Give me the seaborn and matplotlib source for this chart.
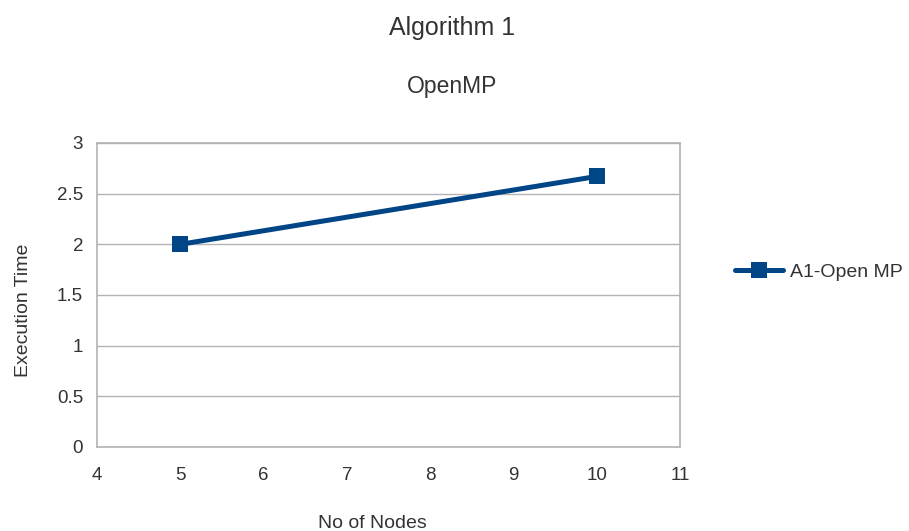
import matplotlib
matplotlib.use("Agg")
import matplotlib.pyplot as plt
import seaborn as sns
import pandas as pd

# Measured execution times for the OpenMP version of algorithm 1
nodes = [5, 10]
exec_time = [2.0, 2.67]
series_name = "A1-Open MP"

x_ticks = [4, 5, 6, 7, 8, 9, 10, 11]
y_ticks = [0, 0.5, 1, 1.5, 2, 2.5, 3]

df = pd.DataFrame({"nodes": nodes, "time": exec_time, "series": series_name})

sns.set_theme(style="white")
plt.rcParams["font.family"] = ["Liberation Sans", "DejaVu Sans"]

grey = "#b3b3b3"
text_col = "#333333"
blue = "#004586"

fig = plt.figure(figsize=(9.09, 5.31), dpi=100)
ax = fig.add_axes([0.1067, 0.1582, 0.6414, 0.5725])

sns.lineplot(data=df, x="nodes", y="time", hue="series", palette=[blue],
             marker="s", markersize=12, linewidth=3.6, markeredgewidth=0,
             ax=ax, legend=True)

ax.set_xlim(4, 11)
ax.set_ylim(0, 3)
ax.set_xticks(x_ticks)
ax.set_xticklabels([str(v) for v in x_ticks])
ax.set_yticks(y_ticks)
ax.set_yticklabels([f"{v:g}" for v in y_ticks])

ax.yaxis.grid(True, color=grey, linewidth=1)
ax.xaxis.grid(False)
for sp in ax.spines.values():
    sp.set_color(grey)
    sp.set_linewidth(1.2)
ax.tick_params(axis="both", direction="out", length=6.5, width=1, color=grey,
               labelsize=13.5, labelcolor=text_col)
ax.tick_params(axis="y", pad=3.5)
ax.tick_params(axis="x", pad=8)

ax.set_xlabel("No of Nodes", fontsize=14, color=text_col)
ax.xaxis.set_label_coords(0.472, -0.225)
ax.set_ylabel("Execution Time", fontsize=14, color=text_col)
ax.yaxis.set_label_coords(-0.112, 0.45)

leg = ax.legend(loc="center left", bbox_to_anchor=(1.095, 0.575), frameon=False,
                fontsize=14, handlelength=2.45, handletextpad=0.36,
                borderaxespad=0, borderpad=0, labelcolor=text_col)

fig.text(0.497, 0.948, "Algorithm 1", ha="center", va="center",
         fontsize=18, color=text_col)
fig.text(0.497, 0.838, "OpenMP", ha="center", va="center",
         fontsize=16.5, color=text_col)

fig.savefig("out.png", dpi=100, facecolor="white")
